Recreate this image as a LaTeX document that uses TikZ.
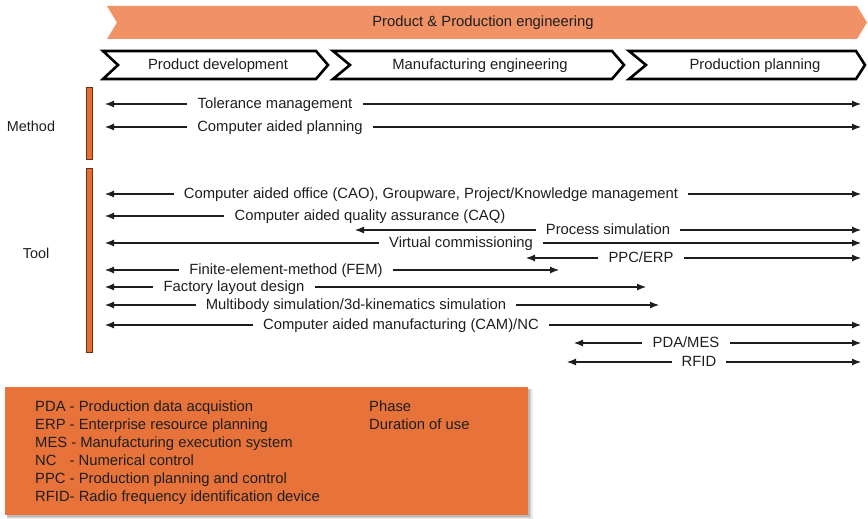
\documentclass[tikz,border=0pt]{standalone}
\usepackage{fontspec}
\setmainfont{Liberation Sans}
\usetikzlibrary{arrows.meta}
\definecolor{banner}{RGB}{240,146,102}
\definecolor{legendor}{RGB}{232,115,58}
\definecolor{baror}{RGB}{230,108,48}
\definecolor{ink}{RGB}{30,30,30}
\begin{document}
\begin{tikzpicture}[x=1pt,y=-1pt,
  txt/.style={font=\fontsize{14.8}{17}\selectfont, text=ink, text height=11pt, text depth=2pt, inner xsep=10pt, inner ysep=0pt},
  leg/.style={font=\fontsize{14.8}{17}\selectfont, text=ink, inner sep=0pt, anchor=base west},
  arr/.style={draw=ink, line width=1.1pt, -{Latex[length=9pt,width=7pt]}},
  chev/.style={draw=black, line width=2.6pt, fill=white, line join=miter},
  bar/.style={fill=baror, draw=black!55!baror, line width=0.6pt}]
\useasboundingbox (0,0) rectangle (868,519);
% banner
\fill[banner] (107,6) -- (857,6) -- (867,22.5) -- (857,39) -- (107,39) -- (117,22.5) -- cycle;
\node[txt] (title) at (483,22) {Product \& Production engineering};
% phase chevrons
\draw[chev] (103,51) -- (316,51) -- (328,65) -- (316,79) -- (103,79) -- (118,65) -- cycle;
\node[txt] (pd) at (218,65) {Product development};
\draw[chev] (333,51) -- (612,51) -- (624,65) -- (612,79) -- (333,79) -- (350,65) -- cycle;
\node[txt] (me) at (480,65) {Manufacturing engineering};
\draw[chev] (629,51) -- (856,51) -- (865,65) -- (856,79) -- (629,79) -- (646,65) -- cycle;
\node[txt] (pp) at (755,65) {Production planning};
% side bars and labels
\draw[bar] (86,87) rectangle (92,159);
\draw[bar] (86,168) rectangle (92,352);
\node[txt, inner xsep=0pt, font=\fontsize{14.4}{17}\selectfont] (method) at (31,127) {Method};
\node[txt, inner xsep=0pt, font=\fontsize{14.4}{17}\selectfont] (tool) at (36,254) {Tool};
% rows
\node[txt] (tol) at (275,104) {Tolerance management};
\coordinate (tolL) at (105,104); \coordinate (tolR) at (861,104);
\draw[arr] (tol.west) -- (tolL); \draw[arr] (tol.east) -- (tolR);

\node[txt] (cap) at (280,127) {Computer aided planning};
\coordinate (capL) at (105,127); \coordinate (capR) at (861,127);
\draw[arr] (cap.west) -- (capL); \draw[arr] (cap.east) -- (capR);

\node[txt] (cao) at (431,194) {Computer aided office (CAO), Groupware, Project/Knowledge management};
\coordinate (caoL) at (105,194); \coordinate (caoR) at (861,194);
\draw[arr] (cao.west) -- (caoL); \draw[arr] (cao.east) -- (caoR);

\node[txt] (caq) at (370,216) {Computer aided quality assurance (CAQ)};
\coordinate (caqL) at (105,216);
\draw[arr] (caq.west) -- (caqL);

\node[txt] (ps) at (608,230) {Process simulation};
\coordinate (psL) at (355,230); \coordinate (psR) at (861,230);
\draw[arr] (ps.west) -- (psL); \draw[arr] (ps.east) -- (psR);

\node[txt] (vc) at (461,243) {Virtual commissioning};
\coordinate (vcL) at (105,243); \coordinate (vcR) at (861,243);
\draw[arr] (vc.west) -- (vcL); \draw[arr] (vc.east) -- (vcR);

\node[txt] (ppc) at (641,258) {PPC/ERP};
\coordinate (ppcL) at (526,258); \coordinate (ppcR) at (861,258);
\draw[arr] (ppc.west) -- (ppcL); \draw[arr] (ppc.east) -- (ppcR);

\node[txt] (fem) at (286,270) {Finite-element-method (FEM)};
\coordinate (femL) at (105,270); \coordinate (femR) at (559,270);
\draw[arr] (fem.west) -- (femL); \draw[arr] (fem.east) -- (femR);

\node[txt] (fld) at (234,287) {Factory layout design};
\coordinate (fldL) at (105,287); \coordinate (fldR) at (646,287);
\draw[arr] (fld.west) -- (fldL); \draw[arr] (fld.east) -- (fldR);

\node[txt] (mbs) at (356,305) {Multibody simulation/3d-kinematics simulation};
\coordinate (mbsL) at (105,305); \coordinate (mbsR) at (659,305);
\draw[arr] (mbs.west) -- (mbsL); \draw[arr] (mbs.east) -- (mbsR);

\node[txt] (cam) at (401,325) {Computer aided manufacturing (CAM)/NC};
\coordinate (camL) at (105,325); \coordinate (camR) at (861,325);
\draw[arr] (cam.west) -- (camL); \draw[arr] (cam.east) -- (camR);

\node[txt] (pda) at (686,343) {PDA/MES};
\coordinate (pdaL) at (574,343); \coordinate (pdaR) at (861,343);
\draw[arr] (pda.west) -- (pdaL); \draw[arr] (pda.east) -- (pdaR);

\node[txt] (rfid) at (699,362) {RFID};
\coordinate (rfidL) at (567,362); \coordinate (rfidR) at (861,362);
\draw[arr] (rfid.west) -- (rfidL); \draw[arr] (rfid.east) -- (rfidR);
% legend box with soft shadow
\fill[black, opacity=0.08] (7,389) rectangle (533,519);
\fill[black, opacity=0.10] (7,389) rectangle (531,517.5);
\fill[black, opacity=0.12] (7,389) rectangle (530,516.5);
\fill[legendor] (5,387) rectangle (528,515);
\node[leg] (l1) at (35,411) {PDA - Production data acquistion};
\node[leg] (l2) at (35,429) {ERP - Enterprise resource planning};
\node[leg] (l3) at (35,447) {MES - Manufacturing execution system};
\node[leg] (l4) at (35,465) {NC\hspace{0.61em} - Numerical control};
\node[leg] (l5) at (35,483) {PPC - Production planning and control};
\node[leg] (l6) at (35,501) {RFID- Radio frequency identification device};
\node[leg] (ph) at (369,411) {Phase};
\node[leg] (du) at (369,429) {Duration of use};
\end{tikzpicture}
\end{document}
